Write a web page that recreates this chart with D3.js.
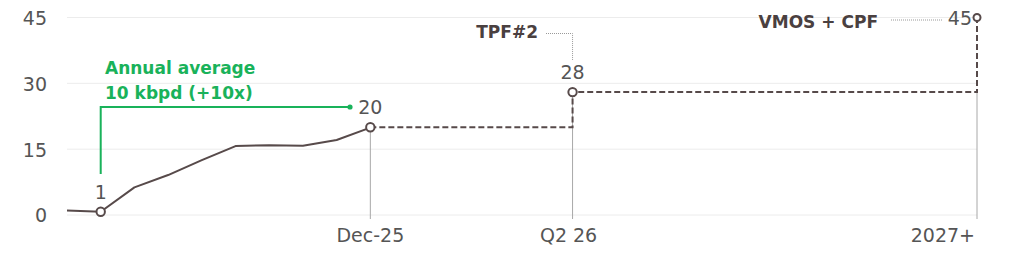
<!DOCTYPE html>
<html>
<head>
<meta charset="utf-8">
<script src="https://cdn.jsdelivr.net/npm/d3@7"></script>
<style>
  html, body { margin: 0; padding: 0; background: #fff; }
  svg { display: block; font-family: "DejaVu Sans", sans-serif; }
</style>
</head>
<body>
<svg id="chart" width="1014" height="258"></svg>
<script>
// ---- data ----
const months = ["Mar-25","Apr-25","May-25","Jun-25","Jul-25","Aug-25","Sep-25","Oct-25","Nov-25","Dec-25"];
const actualValues = [1.0, 0.75, 6.3, 9.1, 12.5, 15.7, 15.9, 15.8, 17.1, 19.9];
const milestoneLabels = ["Dec-25", "Q2 26", "2027+"];
const milestoneIndex = [9, 15, 27];
const milestoneValues = [20, 28, 45];
const yTicks = [0, 15, 30, 45];
const pointLabels = ["1", "20", "28", "45"];
const pointLabelIndex = [1, 9, 15, 27];
const pointLabelValues = [0.75, 20, 28, 45];
const annotationLines = ["Annual average", "10 kbpd (+10x)"];
const calloutTexts = ["TPF#2", "VMOS + CPF"];

// ---- style ----
const dark = "#574a4a";
const green = "#19b25a";
const grey = "#555";

const svg = d3.select("#chart");
const x = d3.scaleLinear().domain([0, 27]).range([67, 977]);
const y = d3.scaleLinear().domain([0, 45]).range([215, 17.5]);

// gridlines
svg.append("g").selectAll("line").data(yTicks).join("line")
  .attr("x1", x(0)).attr("x2", x(27))
  .attr("y1", d => y(d)).attr("y2", d => y(d))
  .attr("stroke", "#ececec").attr("stroke-width", 1);

// y axis labels
const yAxis = d3.axisLeft(y).tickValues(yTicks).tickSize(0).tickPadding(0);
const ya = svg.append("g").attr("transform", "translate(47,0)").call(yAxis);
ya.select(".domain").remove();
ya.selectAll("text").attr("font-size", 19).attr("fill", grey)
  .attr("font-family", "DejaVu Sans").attr("dy", "0.36em");

// drop lines
svg.append("g").selectAll("line").data(milestoneIndex).join("line")
  .attr("x1", d => x(d)).attr("x2", d => x(d))
  .attr("y1", (d, i) => y(i === 2 ? 28 : milestoneValues[i]))
  .attr("y2", 219)
  .attr("stroke", "#a8a8a8").attr("stroke-width", 1);

// x labels
svg.append("g").selectAll("text").data(milestoneLabels).join("text")
  .attr("x", (d, i) => i === 2 ? x(milestoneIndex[i]) - 2 : x(milestoneIndex[i]) - (i === 1 ? 4 : 0))
  .attr("y", 242)
  .attr("text-anchor", (d, i) => i === 2 ? "end" : "middle")
  .attr("font-size", 19).attr("fill", grey)
  .text(d => d);

// forecast dashed step line
const forecast = milestoneIndex.map((d, i) => [d, milestoneValues[i]]);
svg.append("path")
  .attr("d", d3.line().x(d => x(d[0])).y(d => y(d[1])).curve(d3.curveStepAfter)(forecast))
  .attr("fill", "none").attr("stroke", dark).attr("stroke-width", 2)
  .attr("stroke-dasharray", "6,3");

// actual line
const actual = actualValues.map((v, i) => [i, v]);
svg.append("path")
  .attr("d", d3.line().x(d => x(d[0])).y(d => y(d[1]))(actual))
  .attr("fill", "none").attr("stroke", dark).attr("stroke-width", 2)
  .attr("stroke-linejoin", "round");

// circles
svg.append("g").selectAll("circle").data(pointLabelIndex).join("circle")
  .attr("cx", d => x(d))
  .attr("cy", (d, i) => y(pointLabelValues[i]))
  .attr("r", (d, i) => i === 3 ? 3.5 : 4.2)
  .attr("fill", "#fff").attr("stroke", dark).attr("stroke-width", 2);

// point labels
svg.append("g").selectAll("text").data(pointLabels).join("text")
  .attr("x", (d, i) => i === 3 ? x(pointLabelIndex[i]) - 5 : x(pointLabelIndex[i]))
  .attr("y", (d, i) => i === 3 ? y(pointLabelValues[i]) + 7 : y(pointLabelValues[i]) - 13)
  .attr("text-anchor", (d, i) => i === 3 ? "end" : "middle")
  .attr("font-size", 19).attr("fill", grey)
  .text(d => d);

// green annotation
const annX0 = x(1), annX1 = 350, annY = 107;
svg.append("path")
  .attr("d", `M${annX0},174 V${annY} H${annX1}`)
  .attr("fill", "none").attr("stroke", green).attr("stroke-width", 2);
svg.append("circle").attr("cx", annX1).attr("cy", annY).attr("r", 2.6).attr("fill", green);
svg.append("g").selectAll("text").data(annotationLines).join("text")
  .attr("x", 105).attr("y", (d, i) => 74 + i * 25)
  .attr("font-size", 17).attr("font-weight", "bold").attr("fill", green)
  .text(d => d);

// callouts
svg.append("text").attr("x", 538).attr("y", 38).attr("text-anchor", "end")
  .attr("font-size", 17).attr("font-weight", "bold").attr("fill", "#4a4040")
  .text(calloutTexts[0]);
svg.append("path").attr("d", `M546,33.5 H${x(15)} V60`)
  .attr("fill", "none").attr("stroke", "#999").attr("stroke-width", 1)
  .attr("stroke-dasharray", "1,1");

svg.append("text").attr("x", 878).attr("y", 28).attr("text-anchor", "end")
  .attr("font-size", 17).attr("font-weight", "bold").attr("fill", "#4a4040")
  .text(calloutTexts[1]);
svg.append("path").attr("d", `M891,20 H942`)
  .attr("fill", "none").attr("stroke", "#999").attr("stroke-width", 1)
  .attr("stroke-dasharray", "1,1");
</script>
</body>
</html>
